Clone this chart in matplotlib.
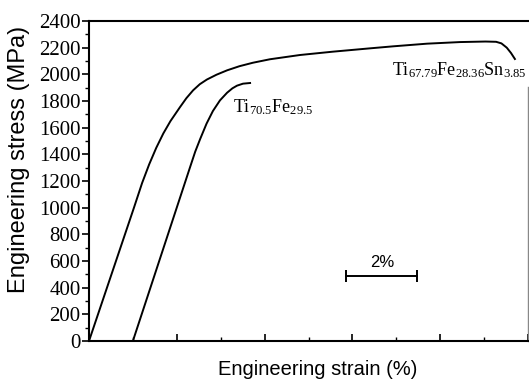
import matplotlib
matplotlib.use("Agg")
import matplotlib.pyplot as plt
from matplotlib.ticker import FixedLocator, MultipleLocator

# ---- data (strain %, stress MPa) ----
sn_strain = [0, 1.27, 1.50, 1.70, 1.90, 2.10, 2.30, 2.57, 2.75, 2.94, 3.13,
             3.33, 3.60, 3.90, 4.25, 4.63, 5.11, 5.96, 6.89, 7.94, 8.59,
             9.55, 10.48, 11.20, 11.50, 11.65, 11.80, 11.92, 12.03]
sn_stress = [0, 1000, 1185, 1325, 1449, 1557, 1649, 1754, 1821, 1880, 1926,
             1961, 1997, 2030, 2061, 2087, 2113, 2145, 2170, 2195, 2210,
             2230, 2242, 2246, 2244, 2232, 2200, 2160, 2115]

tife_strain = [0, 1.24, 2.85, 3.00, 3.14, 3.32, 3.50, 3.70, 3.90, 4.05,
               4.18, 4.35, 4.55]
tife_stress = [0, 0, 1300, 1420, 1515, 1630, 1725, 1805, 1862, 1895,
               1915, 1930, 1935]

x_major = [0, 2.48, 4.96, 7.44, 9.92, 12.4]
x_minor = [1.24, 3.72, 6.2, 8.68, 11.16]
scale_bar = [7.27, 9.27]
scale_bar_y = 490

SERIF = "Liberation Serif"
SANS = "Liberation Sans"
plt.rcParams["mathtext.fontset"] = "stix"

fig = plt.figure(figsize=(5.29, 3.79), dpi=100)
ax = fig.add_axes([89/529, 1 - 341/379, 439/529, 320/379])

ax.plot(sn_strain, sn_stress, color="black", lw=1.4)
ax.plot(tife_strain, tife_stress, color="black", lw=1.4)

ax.set_xlim(0, 12.4)
ax.set_ylim(0, 2400)

# x ticks: inward, no labels
ax.xaxis.set_major_locator(FixedLocator(x_major))
ax.xaxis.set_minor_locator(FixedLocator(x_minor))
ax.tick_params(axis="x", which="major", direction="in", length=5, width=1.2,
               labelbottom=False, top=False)
ax.tick_params(axis="x", which="minor", direction="in", length=3, width=1.0, top=False)

# y ticks: outward
ax.yaxis.set_major_locator(MultipleLocator(200))
ax.yaxis.set_minor_locator(MultipleLocator(100))
ax.tick_params(axis="y", which="major", direction="out", length=5, width=1.2,
               pad=1, right=False)
ax.tick_params(axis="y", which="minor", direction="out", length=3, width=1.0, right=False)
for lab in ax.get_yticklabels():
    lab.set_fontfamily(SERIF)
    lab.set_fontsize(15)

for s in ["left", "bottom", "top"]:
    ax.spines[s].set_linewidth(1.5)
ax.spines["right"].set_color("#888888")
ax.spines["right"].set_linewidth(1.0)
ax.spines["right"].set_bounds(0, 1905)

ax.set_ylabel("Engineering stress (MPa)", fontfamily=SANS, fontsize=17)
ax.yaxis.set_label_coords(-0.135, 0.566)
ax.set_xlabel("Engineering strain (%)", fontfamily=SANS, fontsize=14.5)
ax.xaxis.set_label_coords(0.522, -0.059)

# composition labels
ax.text(4.07, 1718, r"Ti$\mathregular{_{70.5}}$Fe$\mathregular{_{29.5}}$",
        fontfamily=SERIF, fontsize=13, ha="left", va="baseline")
ax.text(8.56, 1995, r"Ti$\mathregular{_{67.79}}$Fe$\mathregular{_{28.36}}$Sn$\mathregular{_{3.85}}$",
        fontfamily=SERIF, fontsize=13, ha="left", va="baseline")

# 2 % scale bar
ax.plot(scale_bar, [scale_bar_y, scale_bar_y], color="black", lw=1.4,
        marker="|", markersize=8, markeredgewidth=1.4)
ax.text(sum(scale_bar) / 2, scale_bar_y + 45, "2%", fontfamily=SANS, fontsize=12,
        ha="center", va="bottom")

fig.savefig("out.png", dpi=100)
